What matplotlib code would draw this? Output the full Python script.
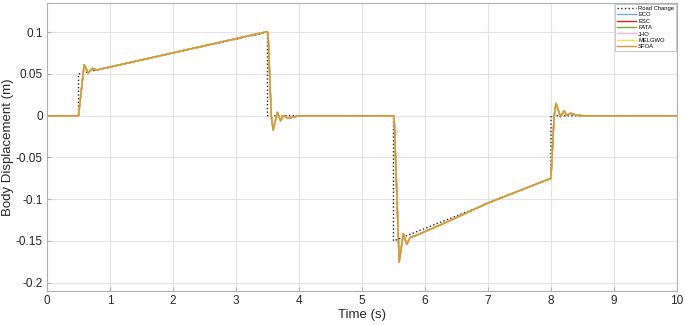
import numpy as np
import matplotlib
matplotlib.use('Agg')
import matplotlib.pyplot as plt
from matplotlib.ticker import FuncFormatter

plt.rcParams['font.family'] = ['Liberation Sans', 'DejaVu Sans']

# road profile (piecewise linear)
road_t = [0, 0.5, 0.5, 3.5, 3.5, 5.5, 5.5, 8.0, 8.0, 10]
road_y = [0, 0, 0.05, 0.1, 0, 0, -0.15, -0.075, 0, 0]

# body response (all controllers nearly identical)
resp_t = [0, 0.5, 0.59, 0.656, 0.72, 0.79, 3.497, 3.51, 3.56, 3.59, 3.655, 3.71,
          3.75, 3.83, 4.0, 5.51, 5.59, 5.656, 5.71, 5.77, 5.84, 6.3, 7.0, 8.0,
          8.05, 8.08, 8.15, 8.21, 8.25, 8.31, 8.39, 8.5, 10]
resp_y = [0, 0, 0.061, 0.0512, 0.0568, 0.0548, 0.1008, 0.098, 0.0, -0.0172, 0.004, -0.006,
          0.0, -0.003, 0, 0, -0.1753, -0.1413, -0.154, -0.1453, -0.144, -0.129, -0.1045, -0.075,
          0.0, 0.0148, -0.0012, 0.006, 0.0005, 0.003, 0.001, 0, 0]

methods = ['ECO', 'ESC', 'FATA', 'JHO', 'MELGWO', 'SFOA']
colors = ['#72a9d0', '#d62728', '#77ac30', '#f4b6d2', '#f2e14b', '#d4952b']

fig = plt.figure(figsize=(6.85, 3.25), dpi=100)
ax = fig.add_axes([0.0686, 0.1046, 0.9197, 0.886])

ax.plot(road_t, road_y, ':', color='#222222', lw=1.0, label='Road Change')
for name, c in zip(methods, colors):
    ax.plot(resp_t, resp_y, '-', color=c, lw=1.0, label=name)

ax.set_xlim(0, 10)
ax.set_ylim(-0.21, 0.135)
ax.set_xticks(np.arange(0, 11, 1))
ax.set_yticks([-0.2, -0.15, -0.1, -0.05, 0, 0.05, 0.1])
ax.yaxis.set_major_formatter(FuncFormatter(lambda v, p: '{:g}'.format(round(v, 3))))
ax.grid(True, color='#e3e3e3', lw=0.8)
ax.set_axisbelow(True)
for s in ax.spines.values():
    s.set_color('#b0b0b0')
    s.set_linewidth(0.8)
ax.tick_params(direction='in', length=3, colors='#b0b0b0', labelcolor='#262626', labelsize=8.5, pad=3)
ax.set_xlabel('Time (s)', fontsize=9.5, color='#262626', labelpad=1)
ax.set_ylabel('Body Displacement (m)', fontsize=9.5, color='#262626', labelpad=1)

leg = ax.legend(loc='upper right', fontsize=4.2, frameon=True, fancybox=False,
                borderaxespad=0.15, handlelength=3.2, handletextpad=0.4,
                labelspacing=0.22, borderpad=0.35)
leg.get_frame().set_edgecolor('#b0b0b0')
leg.get_frame().set_linewidth(0.6)

fig.savefig('out.png', dpi=100)
